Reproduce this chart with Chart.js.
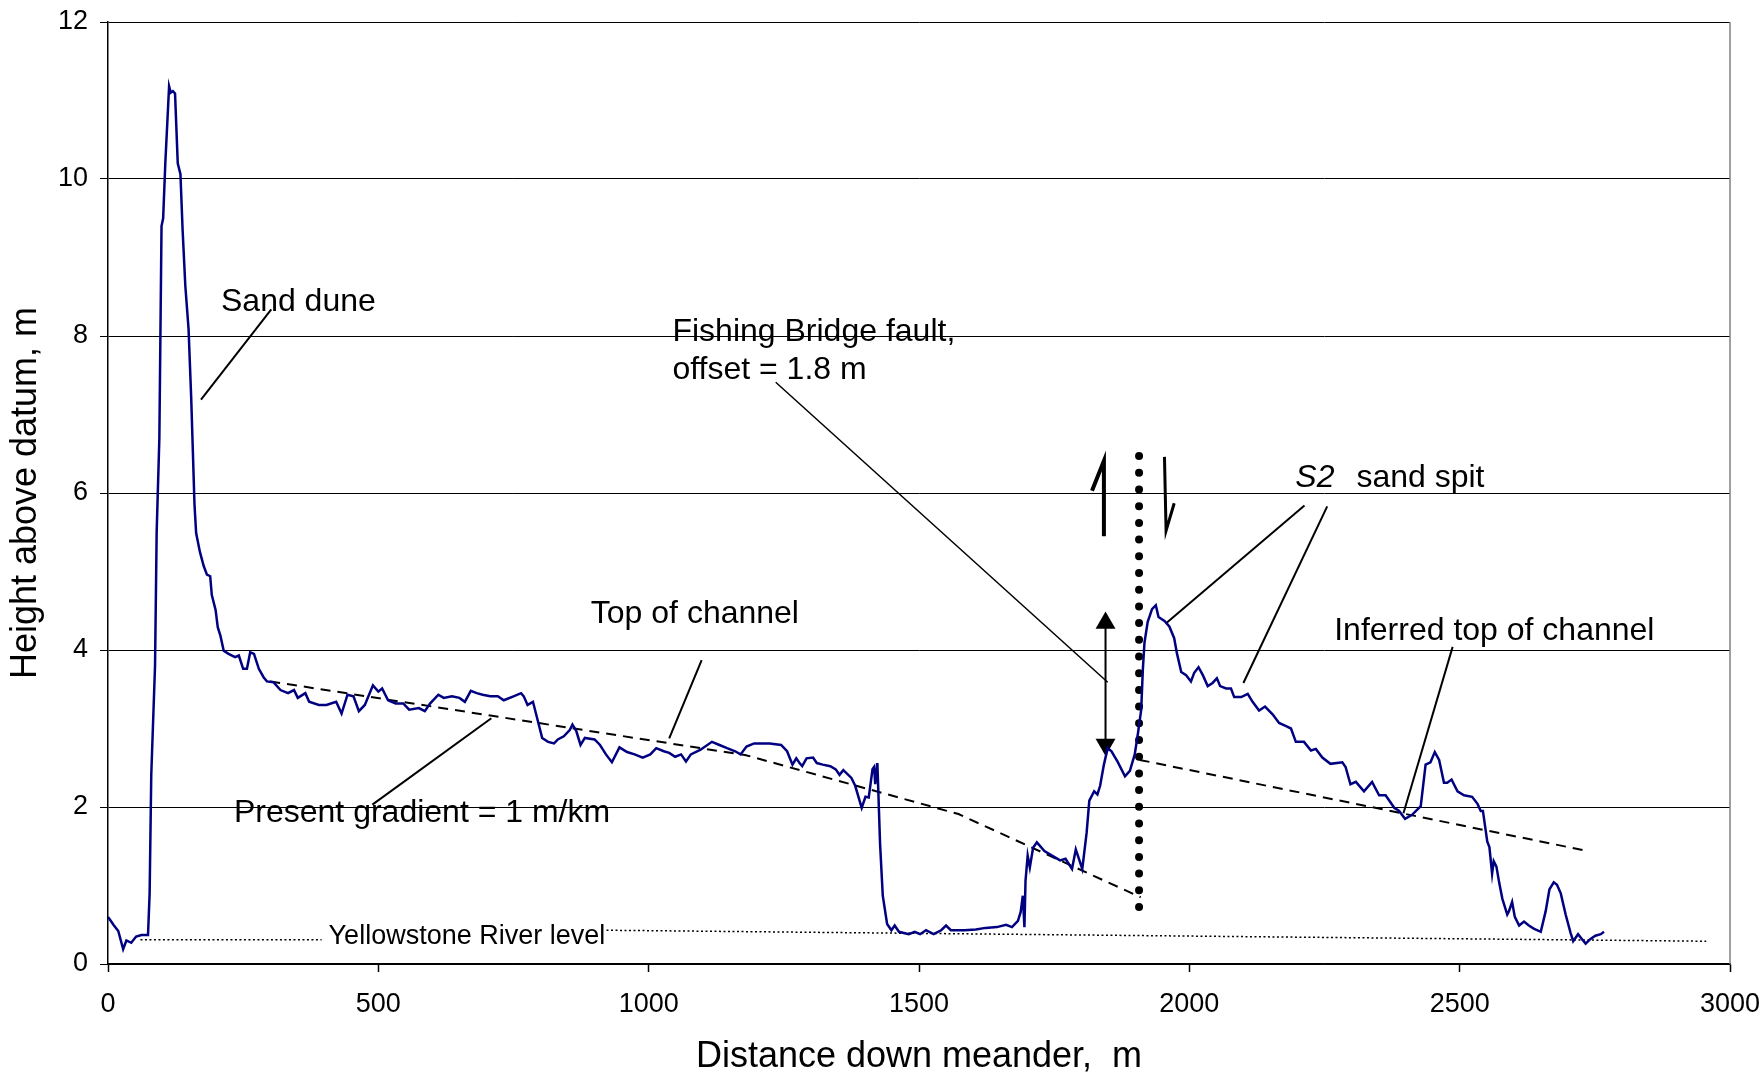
<!DOCTYPE html>
<html lang="en">
<head>
<meta charset="UTF-8">
<title>Height profile down the meander</title>
<style>
  body { margin: 0; background: #fff; }
  canvas { display: block; }
</style>
</head>
<body>
<canvas id="profileChart" width="1764" height="1078"></canvas>
<script src="https://cdn.jsdelivr.net/npm/chart.js"></script>
<script>
// measured profile: distance down meander (m) / height above datum (m)
const profileX = [
  0, 5, 10, 19, 28, 34, 43, 52, 62, 74,
  77, 80, 87, 90, 95, 99, 102, 106, 113, 116,
  120, 124, 129, 134, 138, 143, 149, 154, 160, 163,
  170, 177, 183, 189, 192, 199, 203, 208, 214, 223,
  235, 242, 250, 257, 263, 270, 279, 288, 294, 306,
  319, 333, 344, 351, 365, 372, 390, 404, 422, 432,
  443, 454, 464, 475, 490, 500, 507, 518, 532, 546,
  557, 575, 586, 596, 611, 621, 636, 650, 660, 671,
  682, 693, 707, 721, 732, 750, 764, 769, 776, 786,
  796, 803, 814, 825, 832, 843, 854, 859, 866, 874,
  882, 900, 910, 921, 932, 946, 960, 974, 989, 1003,
  1014, 1028, 1038, 1049, 1060, 1069, 1078, 1096, 1117, 1131,
  1145, 1160, 1170, 1181, 1195, 1224, 1245, 1256, 1266, 1273,
  1279, 1284, 1292, 1304, 1311, 1322, 1336, 1346, 1353, 1360,
  1375, 1382, 1394, 1401, 1407, 1414, 1417, 1419, 1423, 1428,
  1433, 1441, 1449, 1455, 1463, 1481, 1492, 1502, 1513, 1527,
  1541, 1550, 1559, 1584, 1605, 1623, 1644, 1661, 1672, 1683,
  1688, 1692, 1695, 1697, 1701, 1705, 1711, 1718, 1732, 1746,
  1761, 1771, 1783, 1790, 1802, 1810, 1815, 1824, 1830, 1835,
  1842, 1849, 1856, 1867, 1881, 1890, 1899, 1905, 1911, 1914,
  1917, 1923, 1931, 1938, 1943, 1954, 1963, 1972, 1977, 1985,
  1994, 2003, 2009, 2017, 2025, 2034, 2043, 2051, 2057, 2068,
  2077, 2083, 2096, 2108, 2117, 2129, 2140, 2154, 2166, 2179,
  2188, 2197, 2212, 2225, 2234, 2246, 2261, 2283, 2289, 2298,
  2308, 2323, 2338, 2351, 2363, 2379, 2388, 2399, 2412, 2428,
  2437, 2446, 2454, 2462, 2471, 2477, 2485, 2496, 2508, 2523,
  2533, 2539, 2543, 2551, 2555, 2560, 2563, 2568, 2573, 2579,
  2588, 2591, 2597, 2602, 2610, 2619, 2628, 2637, 2650, 2659,
  2666, 2674, 2680, 2687, 2696, 2705, 2710, 2719, 2727, 2733,
  2742, 2751, 2761, 2767
];
const profileY = [
  0.60, 0.55, 0.50, 0.42, 0.19, 0.30, 0.27, 0.35, 0.37, 0.37,
  0.90, 2.40, 3.80, 5.50, 6.70, 9.40, 9.50, 10.20, 11.18, 11.10,
  11.12, 11.09, 10.20, 10.06, 9.35, 8.64, 8.09, 7.19, 5.85, 5.49,
  5.25, 5.07, 4.96, 4.94, 4.70, 4.51, 4.29, 4.18, 3.99, 3.95,
  3.91, 3.93, 3.76, 3.76, 3.97, 3.95, 3.76, 3.65, 3.60, 3.59,
  3.49, 3.45, 3.49, 3.39, 3.45, 3.34, 3.30, 3.30, 3.34, 3.19,
  3.43, 3.41, 3.22, 3.30, 3.55, 3.47, 3.51, 3.36, 3.32, 3.32,
  3.24, 3.26, 3.22, 3.32, 3.43, 3.39, 3.41, 3.39, 3.34, 3.48,
  3.45, 3.43, 3.41, 3.41, 3.36, 3.41, 3.45, 3.41, 3.30, 3.34,
  3.07, 2.88, 2.83, 2.81, 2.86, 2.90, 2.98, 3.05, 2.97, 2.79,
  2.88, 2.86, 2.79, 2.67, 2.57, 2.76, 2.70, 2.67, 2.63, 2.67,
  2.75, 2.71, 2.69, 2.64, 2.67, 2.58, 2.67, 2.73, 2.83, 2.79,
  2.75, 2.71, 2.67, 2.77, 2.81, 2.81, 2.79, 2.71, 2.54, 2.62,
  2.56, 2.52, 2.62, 2.63, 2.56, 2.54, 2.52, 2.48, 2.41, 2.47,
  2.37, 2.27, 1.99, 2.13, 2.12, 2.48, 2.51, 2.29, 2.56, 1.53,
  0.87, 0.51, 0.43, 0.49, 0.41, 0.38, 0.41, 0.38, 0.43, 0.38,
  0.43, 0.49, 0.43, 0.43, 0.44, 0.46, 0.47, 0.50, 0.47, 0.55,
  0.66, 0.87, 0.47, 1.06, 1.38, 1.23, 1.48, 1.55, 1.44, 1.38,
  1.32, 1.34, 1.21, 1.46, 1.21, 1.67, 2.08, 2.20, 2.16, 2.27,
  2.54, 2.75, 2.71, 2.58, 2.39, 2.46, 2.67, 2.94, 3.24, 3.75,
  4.09, 4.36, 4.52, 4.57, 4.42, 4.37, 4.30, 4.15, 3.96, 3.72,
  3.68, 3.60, 3.71, 3.78, 3.68, 3.54, 3.58, 3.64, 3.54, 3.51,
  3.51, 3.40, 3.40, 3.44, 3.34, 3.23, 3.28, 3.18, 3.07, 3.03,
  3.00, 2.83, 2.83, 2.72, 2.74, 2.63, 2.55, 2.57, 2.51, 2.29,
  2.32, 2.20, 2.32, 2.15, 2.15, 1.99, 1.95, 1.85, 1.90, 2.01,
  2.54, 2.57, 2.70, 2.60, 2.31, 2.31, 2.35, 2.20, 2.15, 2.13,
  2.04, 1.95, 1.95, 1.56, 1.49, 1.15, 1.31, 1.24, 1.04, 0.83,
  0.63, 0.67, 0.79, 0.60, 0.49, 0.54, 0.49, 0.45, 0.41, 0.67,
  0.95, 1.04, 1.01, 0.90, 0.63, 0.40, 0.29, 0.38, 0.31, 0.26,
  0.32, 0.36, 0.38, 0.41
];

// present gradient (top of channel) and inferred top of channel
const gradientX = [300, 1180, 1573, 1910];
const gradientY = [3.60, 2.66, 1.91, 0.85];
const inferredX = [1908, 2736];
const inferredY = [2.60, 1.44];

// Yellowstone River level
const riverLeftX = [60, 395];
const riverLeftY = [0.31, 0.31];
const riverRightX = [922, 2956];
const riverRightY = [0.43, 0.29];

// Fishing Bridge fault trace and offset
const faultX = [1907, 1907];
const faultY = [6.47, 0.55];
const offsetX = [1845, 1845];
const offsetY = [4.40, 2.72];
const offsetHeadY = [4.345, 2.795];
const faultUpX = [1820, 1842, 1842];
const faultUpY = [6.03, 6.41, 5.45];
const faultDownX = [1954, 1957, 1972];
const faultDownY = [6.46, 5.52, 5.87];

// leader lines for the labels [x1, y1, x2, y2]
const leaders = [
  [302, 8.34, 172, 7.19],
  [1235, 7.41, 1849, 3.59],
  [2213, 5.84, 1957, 4.34],
  [2255, 5.83, 2100, 3.58],
  [1098, 3.87, 1038, 2.875],
  [709, 3.13, 489, 2.03],
  [2487, 4.04, 2396, 1.92]
];

const FONT = '"Liberation Sans", Arial, sans-serif';

// labels: text, left x and baseline y in data units
const notes = [
  { text: 'Sand dune', x: 209, y: 8.32, size: 32 },
  { text: 'Fishing Bridge fault,', x: 1044, y: 7.94, size: 32 },
  { text: 'offset = 1.8 m', x: 1044, y: 7.45, size: 32 },
  { text: 'Top of channel', x: 893, y: 4.34, size: 32 },
  { text: 'Present gradient = 1 m/km', x: 233, y: 1.81, size: 32 },
  { text: 'Inferred top of channel', x: 2268, y: 4.13, size: 32 },
  { text: 'S2', x: 2196, y: 6.08, size: 32, italic: true },
  { text: 'sand spit', x: 2309, y: 6.08, size: 32 },
  { text: 'Yellowstone River level', x: 408, y: 0.255, size: 27 }
];

function pts(xs, ys) {
  return xs.map((v, i) => ({ x: v, y: ys[i] }));
}

function lineSet(xs, ys, extra) {
  return Object.assign({
    data: pts(xs, ys),
    showLine: true,
    pointRadius: 0,
    borderColor: '#000',
    borderWidth: 2,
    fill: false
  }, extra || {});
}

const datasets = [
  lineSet(profileX, profileY, { borderColor: '#000080', borderWidth: 2.5 }),
  lineSet(gradientX, gradientY, { borderDash: [10, 7] }),
  lineSet(inferredX, inferredY, { borderDash: [10, 7] }),
  lineSet(riverLeftX, riverLeftY, { borderWidth: 1.5, borderDash: [2, 2.5] }),
  lineSet(riverRightX, riverRightY, { borderWidth: 1.5, borderDash: [2, 2.5] }),
  lineSet(faultX, faultY, { borderWidth: 8, borderDash: [0, 16.7], borderCapStyle: 'round' }),
  lineSet(offsetX, offsetY, { borderWidth: 2 }),
  {
    data: pts(offsetX, offsetHeadY),
    showLine: false,
    pointStyle: 'triangle',
    pointRadius: 11.5,
    pointRotation: [0, 180],
    backgroundColor: '#000',
    borderWidth: 0
  },
  lineSet(faultUpX, faultUpY, { borderWidth: 4 }),
  lineSet(faultDownX, faultDownY, { borderWidth: 3 })
];
leaders.forEach((l, i) => {
  datasets.push(lineSet([l[0], l[2]], [l[1], l[3]], { borderWidth: i === 1 ? 1.5 : 2 }));
});

const notesPlugin = {
  id: 'notes',
  afterDraw(chart) {
    const { ctx, chartArea, scales } = chart;
    ctx.save();
    // grey right edge of the plot area
    ctx.strokeStyle = '#808080';
    ctx.lineWidth = 1.5;
    ctx.beginPath();
    ctx.moveTo(chartArea.right, chartArea.top);
    ctx.lineTo(chartArea.right, chartArea.bottom);
    ctx.stroke();

    ctx.fillStyle = '#000';
    ctx.textBaseline = 'alphabetic';
    ctx.textAlign = 'left';
    notes.forEach(n => {
      ctx.font = (n.italic ? 'italic ' : '') + n.size + 'px ' + FONT;
      ctx.fillText(n.text, scales.x.getPixelForValue(n.x), scales.y.getPixelForValue(n.y));
    });
    ctx.restore();
  }
};

new Chart(document.getElementById('profileChart'), {
  type: 'scatter',
  data: { datasets: datasets },
  options: {
    responsive: false,
    animation: false,
    layout: { padding: { top: 22, right: 34, left: 0, bottom: 0 } },
    plugins: {
      legend: { display: false },
      tooltip: { enabled: false }
    },
    scales: {
      x: {
        type: 'linear',
        min: 0,
        max: 3000,
        ticks: {
          stepSize: 500,
          color: '#000',
          font: { family: FONT, size: 27 },
          padding: 16,
          maxRotation: 0,
          callback: v => String(v)
        },
        grid: { drawOnChartArea: false, color: '#000', tickLength: 8, tickWidth: 1.5 },
        border: { color: '#000', width: 1.5 },
        title: {
          display: true,
          text: 'Distance down meander,  m',
          color: '#000',
          font: { family: FONT, size: 36 },
          padding: { top: 0, bottom: -1 }
        },
        afterFit(s) { s.height = 114; s.paddingLeft = 0; s.paddingRight = 0; }
      },
      y: {
        min: 0,
        max: 12,
        ticks: {
          stepSize: 2,
          color: '#000',
          font: { family: FONT, size: 27 },
          padding: 12,
          callback: v => String(v)
        },
        grid: { color: '#000', lineWidth: 1, tickLength: 8 },
        border: { color: '#000', width: 1.5 },
        title: {
          display: true,
          text: 'Height above datum, m',
          color: '#000',
          font: { family: FONT, size: 36 },
          padding: { top: 4, bottom: 0 }
        },
        afterFit(s) { s.width = 108; s.paddingTop = 0; s.paddingBottom = 0; }
      }
    }
  },
  plugins: [notesPlugin]
});
</script>
</body>
</html>
